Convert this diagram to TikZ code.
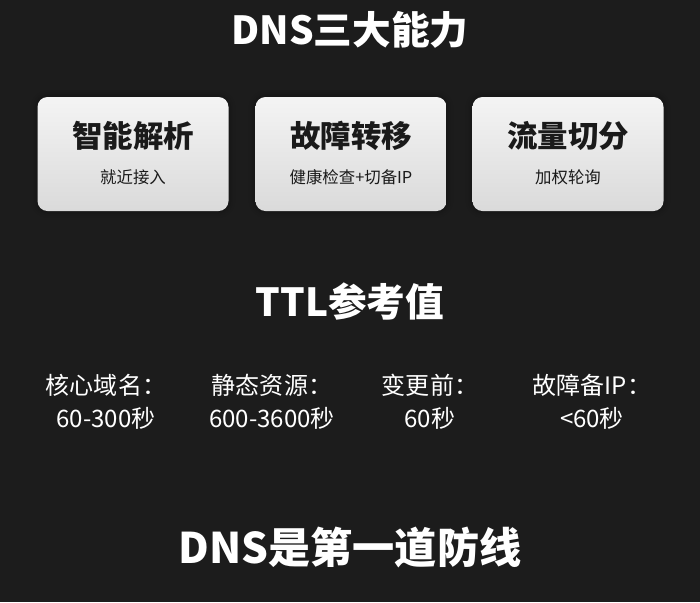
\documentclass[tikz,border=0pt]{standalone}
\usepackage{fontspec}
\setmainfont{Noto Sans CJK SC}
\usetikzlibrary{positioning,shadows.blur}
\definecolor{bgdark}{HTML}{1C1C1C}
\definecolor{boxtop}{HTML}{F4F4F4}
\definecolor{boxbot}{HTML}{DADADA}
\definecolor{inktext}{HTML}{1A1A1A}
\begin{document}
\begin{tikzpicture}[x=0.03cm,y=-0.03cm,
    heading/.style={text=white, font=\bfseries\fontsize{33}{36}\selectfont},
    card/.style={
        rectangle,
        rounded corners=3mm,
        top color=boxtop,
        bottom color=boxbot,
        minimum width=191*0.03cm,
        minimum height=114*0.03cm,
        blur shadow={shadow xshift=0pt, shadow yshift=0pt, shadow blur radius=2mm, shadow opacity=35, shadow blur extra rounding=2mm},
    },
    cardtitle/.style={text=inktext, font=\bfseries\fontsize{26}{28}\selectfont},
    cardsub/.style={text=inktext, font=\fontsize{14}{16}\selectfont},
    ttl/.style={text=white, font=\fontsize{20.5}{28}\selectfont, align=center},
]
    \fill[bgdark] (0,0) rectangle (700,602);
    \useasboundingbox (0,0) rectangle (700,602);
    \node (title) [heading] at (350,30) {DNS三大能力};
    % capability cards
    \node (c1) [card] at (133,154) {};
    \node (c2) [card] at (351,154) {};
    \node (c3) [card] at (568,154) {};
    \node (c1t) [cardtitle] at (133,136) {智能解析};
    \node (c1s) [cardsub] at (133,177) {就近接入};
    \node (c2t) [cardtitle] at (351,136) {故障转移};
    \node (c2s) [cardsub] at (351,177) {健康检查+切备IP};
    \node (c3t) [cardtitle] at (568,136) {流量切分};
    \node (c3s) [cardsub] at (568,177) {加权轮询};
    % TTL table
    \node (ttlhead) [heading] at (350,302) {TTL参考值};
    \node (t1) [ttl] at (106,402) {核心域名：\\60-300秒};
    \node (t2) [ttl] at (272,402) {静态资源：\\600-3600秒};
    \node (t3) [ttl] at (430,402) {变更前：\\60秒};
    \node (t4) [ttl] at (592,402) {故障备IP：\\<60秒};
    \node (motto) [heading, font=\bfseries\fontsize{36}{40}\selectfont] at (350,548) {DNS是第一道防线};
\end{tikzpicture}
\end{document}
